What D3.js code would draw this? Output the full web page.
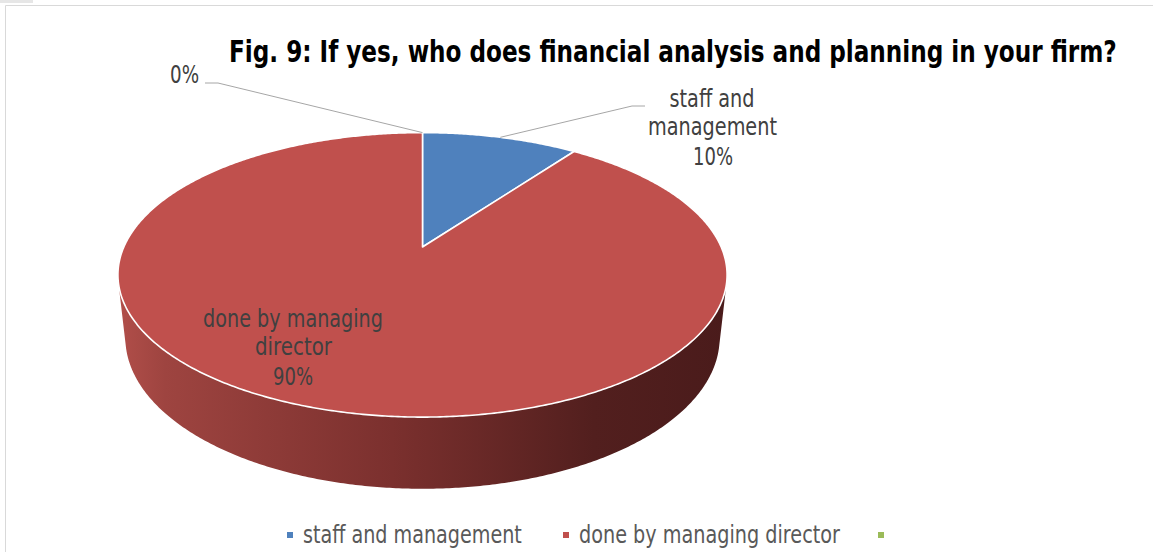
<!DOCTYPE html>
<html>
<head>
<meta charset="utf-8">
<script src="https://cdn.jsdelivr.net/npm/d3@7"></script>
<style>
  body { margin: 0; background: #ffffff; }
  text { font-family: 'Liberation Sans Narrow', 'Arial Narrow', 'DejaVu Sans Condensed', sans-serif; }
</style>
</head>
<body>
<svg id="chart" width="1153" height="552"></svg>
<script>
// ---- data ----
const categories = ["staff and management", "done by managing director", ""];
const shares = [10, 90, 0];
const percentLabels = ["10%", "90%", "0%"];
const sliceColors = ["#4F81BD", "#C0504D", "#9BBB59"];
const titleText = "Fig. 9: If yes, who does financial analysis and planning in your firm?";

// ---- setup ----
const svg = d3.select("#chart");
const W = 1153, H = 552;

// frame
svg.append("rect").attr("x", 0).attr("y", 0).attr("width", 33).attr("height", 3).attr("fill", "#e6e6e6");
svg.append("path").attr("d", `M5.5,${H} V5.5 H${W}`)
  .attr("fill", "none").attr("stroke", "#d9d9d9").attr("stroke-width", 1);

// Places a text so its width equals `width` while keeping the glyph height of `size`:
// the font is shrunk horizontally by sizing it to the width, then stretched back vertically.
function fitText(g, str, x, y, size, width, opts) {
  opts = opts || {};
  const t = g.append("text")
    .attr("text-anchor", opts.anchor || "middle")
    .attr("font-size", size)
    .attr("font-weight", opts.weight || "normal")
    .attr("fill", opts.fill || "#404040")
    .text(str);
  const natural = t.node().getComputedTextLength();
  const fs = natural > 0 ? size * width / natural : size;
  t.attr("font-size", fs)
   .attr("transform", `translate(${x},${y}) scale(1,${size / fs})`);
  return t;
}

// ---- perspective camera for the tilted disc ----
const cam = { cx: 422.5, cy: 247, f: 1356, dist: 4.54, sin: 0.458, cos: 0.889 };
const thickness = 0.239;   // disc height relative to radius

// angle a: 0 at the back (top of screen), increasing clockwise
function project(a, r, z) {
  const X = r * Math.sin(a), Y = r * Math.cos(a), Z = z;
  const zc = cam.dist + Y * cam.cos - Z * cam.sin;
  return [cam.cx + cam.f * X / zc, cam.cy - cam.f * (Y * cam.sin + Z * cam.cos) / zc];
}

const pie = d3.pie().sort(null).value(d => d).startAngle(0).endAngle(2 * Math.PI);
const arcs = pie(shares);

const line = d3.line();
function arcPoints(a0, a1, r, z, n) {
  const pts = [];
  const steps = Math.max(2, Math.ceil(n * (a1 - a0) / (2 * Math.PI)));
  for (let i = 0; i <= steps; i++) pts.push(project(a0 + (a1 - a0) * i / steps, r, z));
  return pts;
}

// side shading
const defs = svg.append("defs");
const grad = defs.append("linearGradient").attr("id", "sideShade")
  .attr("gradientUnits", "userSpaceOnUse").attr("x1", 116).attr("x2", 729).attr("y1", 0).attr("y2", 0);
[[0, "#b24f4a"], [0.08, "#9e4440"], [0.45, "#7b302e"], [0.78, "#521f1e"], [1, "#4a1b1b"]]
  .forEach(([o, c]) => grad.append("stop").attr("offset", o).attr("stop-color", c));

// visible part of the outer wall (faces the camera)
const k = 1 / (cam.dist * cam.cos);
const wallFrom = Math.acos(-k), wallTo = 2 * Math.PI - Math.acos(-k);
const gSide = svg.append("g");
arcs.forEach((d, i) => {
  const a0 = Math.max(d.startAngle, wallFrom), a1 = Math.min(d.endAngle, wallTo);
  if (a1 <= a0) return;
  const topPts = arcPoints(a0, a1, 1, 0, 720);
  const botPts = arcPoints(a0, a1, 1, -thickness, 720).reverse();
  gSide.append("path")
    .attr("d", line(topPts.concat(botPts)) + "Z")
    .attr("fill", i === 1 ? "url(#sideShade)" : d3.color(sliceColors[i]).darker(1.2));
});

// top faces
const gTop = svg.append("g");
arcs.forEach((d, i) => {
  if (d.endAngle - d.startAngle <= 0) return;
  const pts = [project(0, 0, 0)].concat(arcPoints(d.startAngle, d.endAngle, 1, 0, 720));
  gTop.append("path")
    .attr("d", line(pts) + "Z")
    .attr("fill", sliceColors[i])
    .attr("stroke", "#ffffff").attr("stroke-width", 1.6).attr("stroke-linejoin", "round");
});

// ---- data labels ----
const gLab = svg.append("g");
const mid = d => (d.startAngle + d.endAngle) / 2;

// staff and management (outside, with leader)
{
  const p = project(mid(arcs[0]), 1, 0);
  gLab.append("path").attr("d", `M${p[0]},${p[1]} L632,106 H645`)
    .attr("fill", "none").attr("stroke", "#a6a6a6").attr("stroke-width", 1);
  fitText(gLab, "staff and", 712, 107, 24, 85);
  fitText(gLab, "management", 712.5, 135, 24, 129);
  fitText(gLab, percentLabels[0], 713, 165, 24, 40);
}
// done by managing director (inside)
{
  fitText(gLab, "done by managing", 293, 327, 24, 180);
  fitText(gLab, "director", 293.5, 355, 24, 77);
  fitText(gLab, percentLabels[1], 293, 385, 24, 40);
}
// empty category (0%)
{
  const p = project(mid(arcs[2]), 1, 0);
  gLab.append("path").attr("d", `M${p[0]},${p[1]} L218,83 H205`)
    .attr("fill", "none").attr("stroke", "#a6a6a6").attr("stroke-width", 1);
  fitText(gLab, percentLabels[2], 184.5, 83, 24, 29);
}

// ---- title ----
fitText(svg, titleText, 229, 62, 30, 888, { anchor: "start", weight: "bold", fill: "#000000" });

// ---- legend ----
const legendX = [287, 563, 878];
const legendW = [219, 261, 0];
const gLeg = svg.append("g");
categories.forEach((c, i) => {
  gLeg.append("rect").attr("x", legendX[i]).attr("y", 532).attr("width", 6).attr("height", 6)
    .attr("fill", sliceColors[i]);
  if (c) fitText(gLeg, c, legendX[i] + 16, 543, 24, legendW[i], { anchor: "start", fill: "#595959" });
});
</script>
</body>
</html>
